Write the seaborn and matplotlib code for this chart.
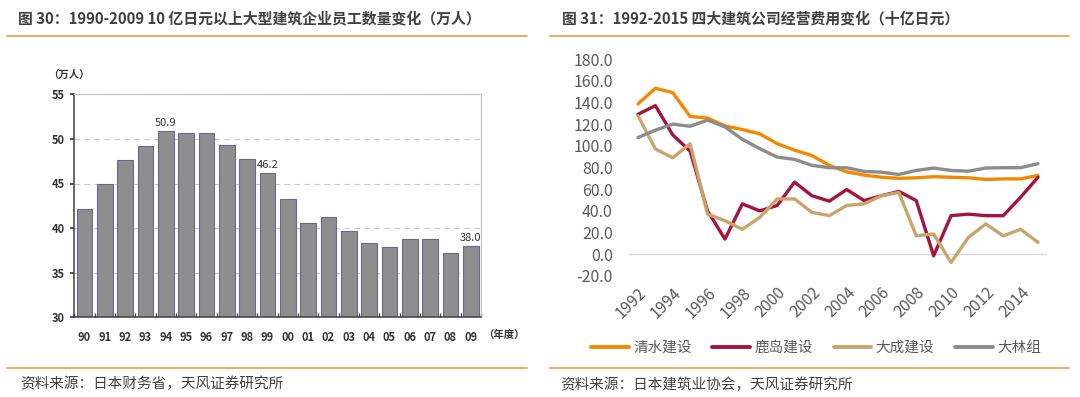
import numpy as np
import pandas as pd
import matplotlib
matplotlib.use("Agg")
import matplotlib.pyplot as plt
from matplotlib.lines import Line2D
import seaborn as sns

# Left chart: large contractors headcount (10k people), FY1990-2009
fy_labels = ['90', '91', '92', '93', '94', '95', '96', '97', '98', '99',
             '00', '01', '02', '03', '04', '05', '06', '07', '08', '09']
employees = [42.1, 44.9, 47.6, 49.2, 50.9, 50.7, 50.7, 49.3, 47.7, 46.2,
             43.3, 40.6, 41.2, 39.7, 38.3, 37.9, 38.8, 38.8, 37.2, 38.0]
labelled_bars = ['94', '99', '09']

# Right chart: operating expenses of the big four (bn yen), 1992-2015
years = list(range(1992, 2016))
shimizu = [138.6, 153.0, 149.0, 127.0, 125.6, 118.4, 115.0, 111.0, 102.0, 96.0, 91.0, 82.0,
           76.0, 73.0, 71.0, 70.0, 70.5, 71.5, 71.0, 70.5, 69.0, 69.5, 69.5, 72.7]
kajima = [129.0, 137.0, 110.0, 95.0, 40.0, 14.0, 46.5, 40.0, 45.0, 66.5, 54.0, 49.0,
          59.7, 49.5, 54.0, 58.0, 49.5, -1.4, 35.6, 37.0, 35.6, 35.6, 52.6, 71.0]
taisei = [127.7, 97.0, 89.0, 102.0, 37.0, 31.0, 23.0, 34.0, 51.0, 51.0, 38.7, 35.6,
          45.0, 46.5, 54.0, 57.0, 17.0, 18.7, -7.6, 15.6, 28.0, 17.0, 23.0, 11.0]
obayashi = [107.6, 114.4, 120.0, 118.0, 123.7, 117.4, 106.0, 97.4, 89.6, 87.5, 82.0, 79.8,
            79.8, 76.4, 75.7, 73.6, 77.3, 79.5, 77.3, 76.6, 79.5, 79.8, 79.8, 83.5]
companies = ['清水建设', '鹿岛建设', '大成建设', '大林组']
company_colors = ['#F28A00', '#A5133F', '#C9A56E', '#8C8C8C']

sns.set_theme(style="white")
plt.rcParams['font.family'] = ['Noto Sans CJK SC', 'DejaVu Sans']

TXT = '#404040'
RULE = '#F5A04C'

fig = plt.figure(figsize=(10.8, 3.97), dpi=100)
fig.patch.set_facecolor('white')

# headers, rules and sources
fig.text(18 / 1080, 1 - 18 / 397, '图 30：1990-2009 10 亿日元以上大型建筑企业员工数量变化（万人）',
         fontsize=10.7, fontweight='bold', color=TXT, va='center', ha='left')
fig.text(562 / 1080, 1 - 18 / 397, '图 31：1992-2015 四大建筑公司经营费用变化（十亿日元）',
         fontsize=10.7, fontweight='bold', color=TXT, va='center', ha='left')
for x0, x1 in [(7, 527), (550, 1069)]:
    for yy in (36, 367.5):
        fig.add_artist(Line2D([x0 / 1080, x1 / 1080], [1 - yy / 397] * 2,
                              color=RULE, lw=1.3, transform=fig.transFigure))
fig.text(20 / 1080, 1 - 384 / 397, '资料来源：日本财务省，天风证券研究所',
         fontsize=10.5, color=TXT, va='center', ha='left')
fig.text(560 / 1080, 1 - 385 / 397, '资料来源：日本建筑业协会，天风证券研究所',
         fontsize=10.5, color=TXT, va='center', ha='left')

# ---- left: bar chart ----
ax1 = fig.add_axes([74.3 / 1080, 1 - 317.3 / 397, 406.7 / 1080, 223 / 397])
df_emp = pd.DataFrame({'fy': fy_labels, 'emp': employees})
sns.barplot(data=df_emp, x='fy', y='emp', ax=ax1, color='#8E8E8E', saturation=1,
            width=0.78, edgecolor='#6C6887', linewidth=0.8)
ax1.set_ylim(30, 55)
ax1.set_xlim(-0.5, len(fy_labels) - 0.5)
ax1.set_yticks(range(30, 56, 5))
ax1.set_axisbelow(True)
ax1.yaxis.grid(True, linestyle=(0, (5, 4)), color='#C8C8C8', lw=0.8)
ax1.xaxis.grid(False)
ax1.set_xlabel('')
ax1.set_ylabel('')
for side in ['left', 'bottom']:
    ax1.spines[side].set_color('#404040')
    ax1.spines[side].set_linewidth(1.1)
for side in ['top', 'right']:
    ax1.spines[side].set_color('#BFBFBF')
    ax1.spines[side].set_linewidth(0.8)
ax1.tick_params(axis='x', length=0, pad=10, labelsize=8, labelcolor='#333333')
ax1.tick_params(axis='y', length=3, direction='out', left=True, color='#404040',
                labelsize=8, labelcolor='#333333', pad=4)
ax1.set_xticks(np.arange(-0.5, len(fy_labels)), minor=True)
ax1.tick_params(axis='x', which='minor', bottom=True, direction='in', length=3, color='#404040')
for lab in ax1.get_xticklabels() + ax1.get_yticklabels():
    lab.set_fontweight('bold')
for i, (lab, v) in enumerate(zip(fy_labels, employees)):
    if lab in labelled_bars:
        ax1.annotate(f'{v:.1f}', (i, v), xytext=(0, 2), textcoords='offset points',
                     ha='center', va='bottom', fontsize=8, color='#333333')
fig.text(48 / 1080, 1 - 75 / 397, '（万人）', fontsize=7.5, fontweight='bold',
         color='#333333', ha='left', va='center')
fig.text(483 / 1080, 1 - 335 / 397, '（年度）', fontsize=7.5, fontweight='bold',
         color='#333333', ha='left', va='center')

# ---- right: line chart ----
ax2 = fig.add_axes([629.3 / 1080, 1 - 276 / 397, 417.4 / 1080, 217 / 397])
df_cost = pd.DataFrame({
    'year': years * 4,
    'company': [c for c in companies for _ in years],
    'cost': shimizu + kajima + taisei + obayashi,
})
sns.lineplot(data=df_cost, x='year', y='cost', hue='company', hue_order=companies,
             palette=company_colors, linewidth=2.4, ax=ax2, legend=False)
ax2.set_xlim(1991.5, 2015.5)
ax2.set_ylim(-20, 180)
ax2.set_yticks(range(-20, 181, 20))
ax2.set_yticklabels([f'{v:.1f}' for v in range(-20, 181, 20)])
ax2.set_xticks(range(1992, 2015, 2))
ax2.set_xticklabels([str(y) for y in range(1992, 2015, 2)], rotation=45,
                    ha='right', rotation_mode='anchor')
ax2.axhline(0, color='#D9D9D9', lw=1.0, zorder=0)
ax2.set_xlabel('')
ax2.set_ylabel('')
for side in ax2.spines.values():
    side.set_visible(False)
ax2.grid(False)
ax2.tick_params(axis='both', length=0, labelsize=11.5, labelcolor='#595959')
ax2.tick_params(axis='y', pad=12)
ax2.tick_params(axis='x', pad=6)

handles = [Line2D([0], [0], color=c, lw=2.8) for c in company_colors]
fig.legend(handles, companies, loc='center', bbox_to_anchor=(816 / 1080, 1 - 348 / 397),
           ncol=4, frameon=False, fontsize=10.5, handlelength=2.6, handletextpad=0.3,
           columnspacing=1.4, labelcolor='#595959')

fig.savefig('out.png', dpi=100, facecolor='white')
